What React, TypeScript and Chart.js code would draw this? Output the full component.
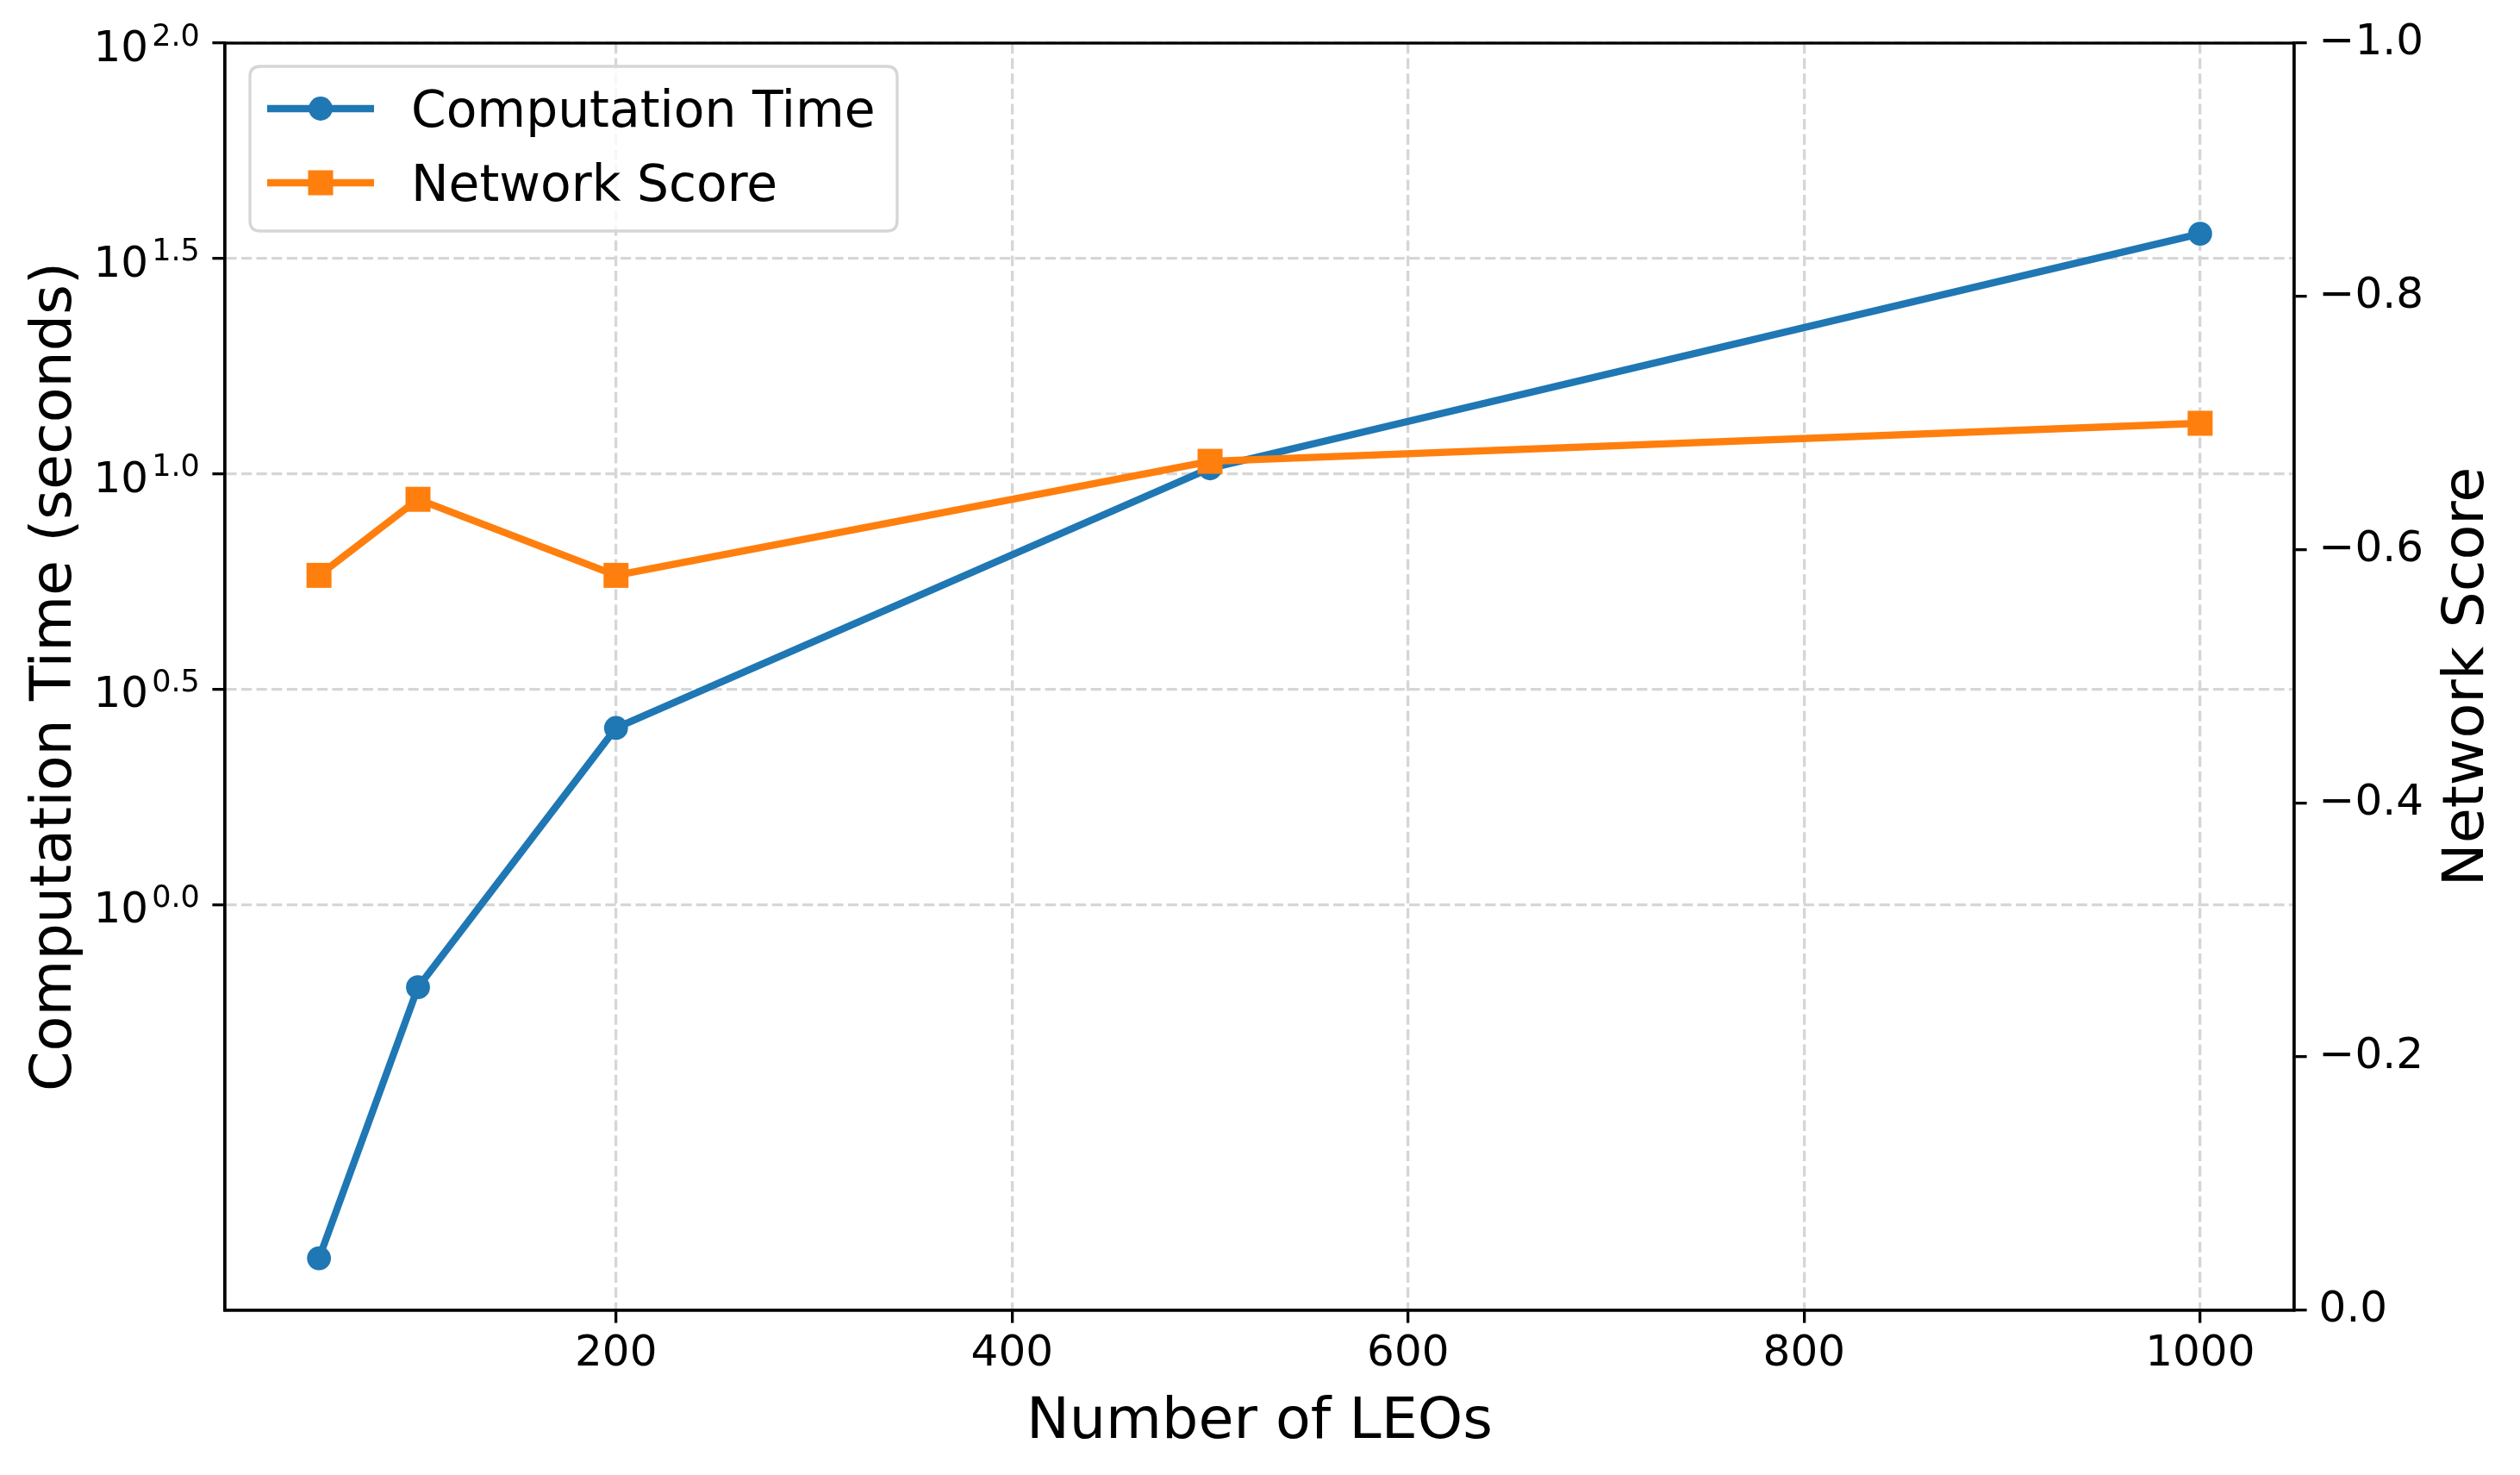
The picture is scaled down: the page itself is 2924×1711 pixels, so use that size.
import React, { useEffect, useRef } from 'react';
import { Chart, registerables } from 'chart.js';

Chart.register(...registerables);

const W = 2924;
const H = 1711;
const FONT = '"DejaVu Sans", "Liberation Sans", sans-serif';

// ---- data ----
const leoCounts = [50, 100, 200, 500, 1000];
const computationTime = [0.151, 0.643, 2.57, 10.3, 36.1];
const networkScore = [-0.58, -0.64, -0.58, -0.67, -0.7];
const xTickValues = [200, 400, 600, 800, 1000];
const leftTickExponents = [0, 0.5, 1, 1.5, 2];
const rightTickValues = [-1, -0.8, -0.6, -0.4, -0.2, 0];
const seriesLabels = ['Computation Time', 'Network Score'];
const xTitle = 'Number of LEOs';
const leftTitle = 'Computation Time (seconds)';
const rightTitle = 'Network Score';

const BLUE = '#1f77b4';
const ORANGE = '#ff7f0e';
const GRID = '#d6d6d6';
const LW_AXIS = 3.3;
const TICK_LEN = 14.6;

const decorPlugin = {
  id: 'decor',
  afterDatasetsDraw(chart: any) {
    const { ctx, chartArea } = chart;
    // legend
    const bx = chartArea.left + 29;
    const by = chartArea.top + 27;
    const bw = 751;
    const bh = 191;
    const r = 12;
    ctx.save();
    ctx.beginPath();
    ctx.moveTo(bx + r, by);
    ctx.lineTo(bx + bw - r, by);
    ctx.quadraticCurveTo(bx + bw, by, bx + bw, by + r);
    ctx.lineTo(bx + bw, by + bh - r);
    ctx.quadraticCurveTo(bx + bw, by + bh, bx + bw - r, by + bh);
    ctx.lineTo(bx + r, by + bh);
    ctx.quadraticCurveTo(bx, by + bh, bx, by + bh - r);
    ctx.lineTo(bx, by + r);
    ctx.quadraticCurveTo(bx, by, bx + r, by);
    ctx.closePath();
    ctx.fillStyle = 'rgba(255,255,255,0.8)';
    ctx.fill();
    ctx.lineWidth = 3.3;
    ctx.strokeStyle = '#d6d6d6';
    ctx.stroke();

    const rowsY = [by + 49, by + 135];
    chart.data.datasets.forEach((ds: any, i: number) => {
      const y = rowsY[i];
      ctx.beginPath();
      ctx.moveTo(bx + 20, y);
      ctx.lineTo(bx + 144, y);
      ctx.lineWidth = 8.3;
      ctx.strokeStyle = ds.borderColor;
      ctx.lineCap = 'butt';
      ctx.stroke();
      ctx.fillStyle = ds.borderColor;
      const mx = bx + 82;
      if (ds.pointStyle === 'rect') {
        ctx.fillRect(mx - 14.5, y - 14.5, 29, 29);
      } else {
        ctx.beginPath();
        ctx.arc(mx, y, 13.9, 0, Math.PI * 2);
        ctx.fill();
      }
      ctx.fillStyle = '#000';
      ctx.font = `58.3px ${FONT}`;
      ctx.textAlign = 'left';
      ctx.textBaseline = 'alphabetic';
      ctx.fillText(ds.label, bx + 187, y + 21);
    });
    ctx.restore();
  },
  afterDraw(chart: any) {
    const { ctx, chartArea } = chart;
    ctx.save();
    // frame
    ctx.lineWidth = LW_AXIS;
    ctx.strokeStyle = '#000';
    ctx.strokeRect(chartArea.left, chartArea.top, chartArea.right - chartArea.left, chartArea.bottom - chartArea.top);

    // left tick labels 10^{e}
    const ys = chart.scales.y;
    const xr = chartArea.left - TICK_LEN - TICK_LEN;
    ys.ticks.forEach((t: any) => {
      const py = ys.getPixelForValue(t.value);
      const e = Math.log10(t.value).toFixed(1);
      ctx.fillStyle = '#000';
      ctx.textBaseline = 'alphabetic';
      ctx.textAlign = 'right';
      ctx.font = `35px ${FONT}`;
      const we = ctx.measureText(e).width;
      ctx.fillText(e, xr, py + 2.5);
      ctx.font = `50px ${FONT}`;
      ctx.fillText('10', xr - we - 4, py + 21);
    });

    // titles
    const cx = (chartArea.left + chartArea.right) / 2;
    const cy = (chartArea.top + chartArea.bottom) / 2;
    ctx.font = `66.7px ${FONT}`;
    ctx.textAlign = 'center';
    ctx.textBaseline = 'alphabetic';
    ctx.fillText(xTitle, cx, chartArea.bottom + 148);

    ctx.save();
    ctx.translate(82, cy);
    ctx.rotate(-Math.PI / 2);
    ctx.fillText(leftTitle, 0, 0);
    ctx.restore();

    ctx.save();
    ctx.translate(chartArea.right + 219, cy);
    ctx.rotate(-Math.PI / 2);
    ctx.fillText(rightTitle, 0, 0);
    ctx.restore();

    ctx.restore();
  },
};

const gridCommon = {
  color: GRID,
  lineWidth: 3.3,
  drawTicks: true,
  tickLength: TICK_LEN,
  tickWidth: LW_AXIS,
  tickColor: '#000',
  tickBorderDash: [],
};

export default function App() {
  const ref = useRef<HTMLCanvasElement | null>(null);

  useEffect(() => {
    if (!ref.current) return;
    const chart = new Chart(ref.current, {
      type: 'line',
      data: {
        datasets: [
          {
            label: seriesLabels[0],
            data: leoCounts.map((x, i) => ({ x, y: computationTime[i] })),
            borderColor: BLUE,
            backgroundColor: BLUE,
            pointBackgroundColor: BLUE,
            pointStyle: 'circle',
            pointRadius: 13.9,
            pointBorderWidth: 0,
            borderWidth: 8.3,
            tension: 0,
            fill: false,
            yAxisID: 'y',
            order: 2,
          },
          {
            label: seriesLabels[1],
            data: leoCounts.map((x, i) => ({ x, y: networkScore[i] })),
            borderColor: ORANGE,
            backgroundColor: ORANGE,
            pointBackgroundColor: ORANGE,
            pointStyle: 'rect',
            pointRadius: 20.5,
            pointBorderWidth: 0,
            borderWidth: 8.3,
            tension: 0,
            fill: false,
            yAxisID: 'y2',
            order: 1,
          },
        ],
      },
      options: {
        responsive: false,
        maintainAspectRatio: false,
        devicePixelRatio: 1,
        animation: false,
        events: [],
        layout: { padding: { top: 50, left: 0, right: 0, bottom: 0 } },
        plugins: {
          legend: { display: false },
          tooltip: { enabled: false },
        },
        scales: {
          x: {
            type: 'linear',
            position: 'bottom',
            min: 2.5,
            max: 1047.5,
            afterBuildTicks: (s: any) => {
              s.ticks = xTickValues.map((v) => ({ value: v }));
            },
            afterFit: (s: any) => {
              s.height = 191;
            },
            grid: gridCommon,
            border: { display: true, color: '#000', width: LW_AXIS, dash: [12.3, 5.3] },
            ticks: {
              color: '#000',
              font: { family: FONT, size: 50 },
              padding: 6,
              maxRotation: 0,
              autoSkip: false,
              callback: (v: any) => String(v),
            },
          },
          y: {
            type: 'logarithmic',
            position: 'left',
            min: Math.pow(10, -0.942),
            max: 100,
            afterBuildTicks: (s: any) => {
              s.ticks = leftTickExponents.map((e) => ({ value: Math.pow(10, e) }));
            },
            afterFit: (s: any) => {
              s.width = 261;
            },
            grid: gridCommon,
            border: { display: true, color: '#000', width: LW_AXIS, dash: [12.3, 5.3] },
            ticks: { display: false },
          },
          y2: {
            type: 'linear',
            position: 'right',
            min: -1,
            max: 0,
            reverse: true,
            afterBuildTicks: (s: any) => {
              s.ticks = rightTickValues.map((v) => ({ value: v }));
            },
            afterFit: (s: any) => {
              s.width = 262;
            },
            grid: { ...gridCommon, drawOnChartArea: false },
            border: { display: true, color: '#000', width: LW_AXIS },
            ticks: {
              color: '#000',
              font: { family: FONT, size: 50 },
              padding: 14,
              autoSkip: false,
              callback: (v: any) => (Math.abs(v) < 1e-9 ? '0.0' : '\u2212' + Math.abs(v).toFixed(1)),
            },
          },
        },
      },
      plugins: [decorPlugin],
    } as any);
    return () => chart.destroy();
  }, []);

  return (
    <div style={{ position: 'absolute', left: 0, top: 0, width: W, height: H, background: '#fff' }}>
      <canvas ref={ref} width={W} height={H} style={{ display: 'block', width: W, height: H }} />
    </div>
  );
}
